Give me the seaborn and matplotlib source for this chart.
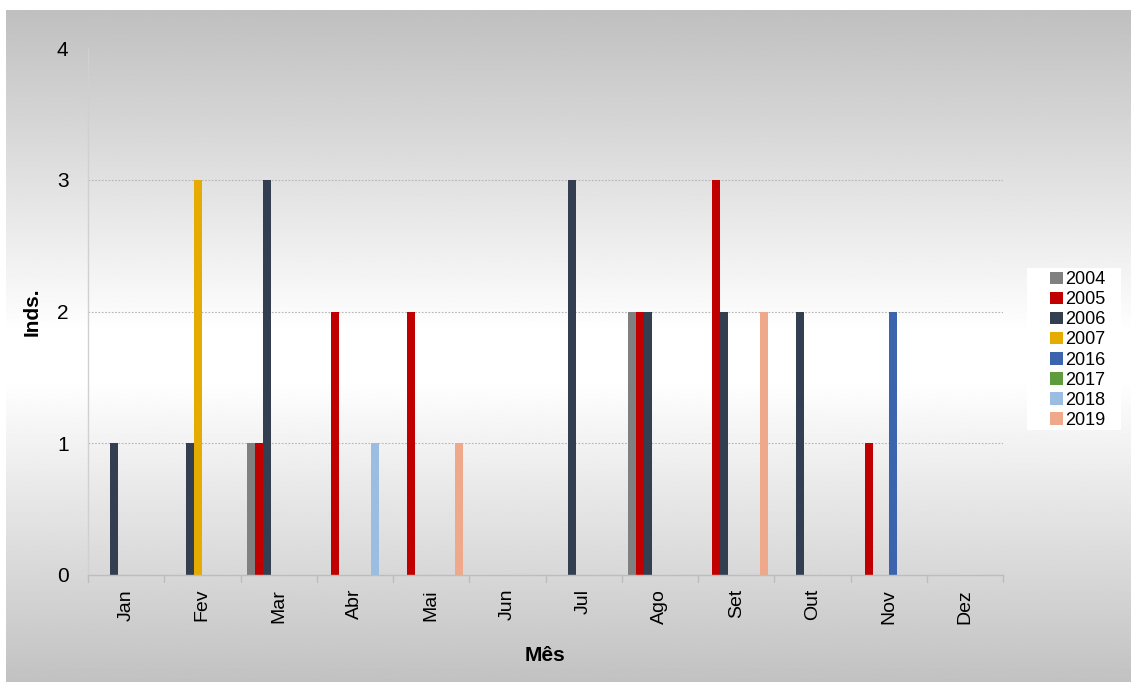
import numpy as np
import pandas as pd
import matplotlib
matplotlib.use("Agg")
import matplotlib.pyplot as plt
import seaborn as sns
from matplotlib.patches import Patch, Rectangle

months = ["Jan", "Fev", "Mar", "Abr", "Mai", "Jun", "Jul", "Ago", "Set", "Out", "Nov", "Dez"]
years = ["2004", "2005", "2006", "2007", "2016", "2017", "2018", "2019"]

v2004 = [0, 0, 1, 0, 0, 0, 0, 2, 0, 0, 0, 0]
v2005 = [0, 0, 1, 2, 2, 0, 0, 2, 3, 0, 1, 0]
v2006 = [1, 1, 3, 0, 0, 0, 3, 2, 2, 2, 0, 0]
v2007 = [0, 3, 0, 0, 0, 0, 0, 0, 0, 0, 0, 0]
v2016 = [0, 0, 0, 0, 0, 0, 0, 0, 0, 0, 2, 0]
v2017 = [0, 0, 0, 0, 0, 0, 0, 0, 0, 0, 0, 0]
v2018 = [0, 0, 0, 1, 0, 0, 0, 0, 0, 0, 0, 0]
v2019 = [0, 0, 0, 0, 1, 0, 0, 0, 2, 0, 0, 0]

colors = ["#808080", "#C00000", "#333F50", "#E5AB00",
          "#3C64AE", "#5E9B3C", "#9CBDE2", "#F0A88A"]

series = [v2004, v2005, v2006, v2007, v2016, v2017, v2018, v2019]
rows = []
for y, vals in zip(years, series):
    for m, v in zip(months, vals):
        rows.append({"Mês": m, "Inds.": v, "Ano": y})
df = pd.DataFrame(rows)

sns.set_theme(style="white")
plt.rcParams["font.family"] = ["Liberation Sans", "DejaVu Sans"]
plt.rcParams["text.color"] = "black"
plt.rcParams["axes.labelcolor"] = "black"
plt.rcParams["xtick.color"] = "black"
plt.rcParams["ytick.color"] = "black"

W, H = 1131, 682
fig = plt.figure(figsize=(W / 100, H / 100), dpi=100)
fig.patch.set_facecolor("white")

# gradient backdrop: gray at top and bottom, white through the middle
bg = fig.add_axes([6 / W, 0, 1 - 6 / W, 1 - 10 / H], zorder=0)
t = np.linspace(0, 1, 400)
top, bot = 0.75, 0.76
shade = np.where(t < 0.48, top + (1 - top) * (t / 0.48),
                 np.where(t < 0.55, 1.0, 1 - (1 - bot) * ((t - 0.55) / 0.45)))
img = np.repeat(shade[:, None], 2, axis=1)
bg.imshow(img, cmap="gray", vmin=0, vmax=1, aspect="auto",
          extent=[0, 1, 1, 0], interpolation="bilinear")
bg.set_axis_off()

x0, x1 = 88 / W, 1003 / W
y0, y1 = (H - 575) / H, (H - 48) / H
ax = fig.add_axes([x0, y0, x1 - x0, y1 - y0], zorder=1)
ax.patch.set_alpha(0)

sns.barplot(data=df, x="Mês", y="Inds.", hue="Ano", hue_order=years,
            order=months, palette=colors, width=0.84, gap=0,
            saturation=1, errorbar=None, ax=ax, legend=False,
            edgecolor="none", linewidth=0)

ax.set_xlim(-0.5, 11.5)
ax.set_ylim(0, 4)
ax.set_yticks([0, 1, 2, 3, 4])
ax.set_yticklabels(["0", "1", "2", "3", "4"], fontsize=15)
ax.set_xticks(range(12))
ax.set_xticklabels(months, rotation=90, fontsize=14)
ax.tick_params(axis="x", length=0, pad=10)
ax.tick_params(axis="y", length=0, pad=14)

for yv in [1, 2, 3]:
    ax.axhline(yv, color="#b5b5b5", lw=0.8, ls=(0, (1.5, 1.5)), zorder=0)

for s in ["top", "right"]:
    ax.spines[s].set_visible(False)
ax.spines["left"].set_color("#d0d0d0")
ax.spines["left"].set_linewidth(1)
ax.spines["bottom"].set_color("#bdbdbd")
ax.spines["bottom"].set_linewidth(1)

# category separators below the baseline
for k in range(13):
    ax.plot([k - 0.5, k - 0.5], [0, -0.05], color="#bdbdbd", lw=1,
            clip_on=False, transform=ax.transData)

ax.set_xlabel("Mês", fontsize=15, fontweight="bold", labelpad=16)
ax.set_ylabel("Inds.", fontsize=15, fontweight="bold", labelpad=11)

# white legend panel
fig.add_artist(Rectangle((1027 / W, (H - 430) / H), 94 / W, 162 / H,
                         transform=fig.transFigure, facecolor="white",
                         edgecolor="none", zorder=2))
handles = [Patch(facecolor=c, edgecolor="none") for c in colors]
leg = fig.legend(handles, years, loc="center",
                 bbox_to_anchor=(1078 / W, (H - 350) / H),
                 fontsize=13, frameon=False,
                 handlelength=0.7, handleheight=0.7, handletextpad=0.15,
                 labelspacing=0.17, borderpad=0, borderaxespad=0)
leg.set_zorder(3)

fig.savefig("out.png", dpi=100)
